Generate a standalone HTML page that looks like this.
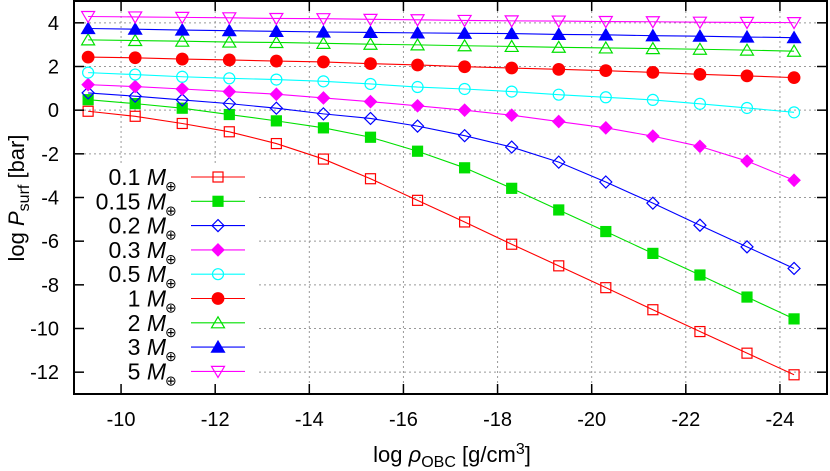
<!DOCTYPE html>
<html><head><meta charset="utf-8"><style>
html,body{margin:0;padding:0;background:#fff;}
svg{display:block;font-family:"Liberation Sans",sans-serif;}
</style></head><body>
<svg id="chart" width="830" height="471" viewBox="0 0 830 471" xmlns="http://www.w3.org/2000/svg">
<g id="grid"></g>
<g id="series"></g>
<rect x="77" y="164" width="181" height="227" fill="#fff"/>
<g id="legend"></g>
<g id="axes"></g>
<text transform="translate(24,198) rotate(-90)" text-anchor="middle" font-size="22">log <tspan font-style="italic">P</tspan><tspan font-size="16" dy="5">surf</tspan><tspan dy="-5"> [bar]</tspan></text>
<text x="452" y="462" text-anchor="middle" font-size="22">log <tspan font-style="italic">ρ</tspan><tspan font-size="16" dy="5">OBC</tspan><tspan dy="-5"> [g/cm</tspan><tspan font-size="16" dy="-8">3</tspan><tspan dy="8">]</tspan></text>
</svg>
<script>
const xValues = [-9.3,-10.3,-11.3,-12.3,-13.3,-14.3,-15.3,-16.3,-17.3,-18.3,-19.3,-20.3,-21.3,-22.3,-23.3,-24.3];
const xTicks = [-10,-12,-14,-16,-18,-20,-22,-24];
const yTicks = [4,2,0,-2,-4,-6,-8,-10,-12];
const seriesLabels = ["0.1","0.15","0.2","0.3","0.5","1","2","3","5"];
const m01 = [-0.05,-0.28,-0.61,-0.99,-1.53,-2.24,-3.14,-4.13,-5.12,-6.14,-7.13,-8.13,-9.14,-10.14,-11.13,-12.12];
const m015 = [0.48,0.30,0.09,-0.20,-0.49,-0.81,-1.24,-1.88,-2.64,-3.58,-4.57,-5.56,-6.56,-7.55,-8.56,-9.56];
const m02 = [0.79,0.64,0.47,0.30,0.09,-0.17,-0.38,-0.73,-1.17,-1.69,-2.38,-3.29,-4.26,-5.27,-6.26,-7.25];
const m03 = [1.17,1.08,0.97,0.85,0.73,0.56,0.39,0.20,0.0,-0.23,-0.52,-0.81,-1.19,-1.66,-2.33,-3.21];
const m05 = [1.72,1.63,1.53,1.46,1.40,1.32,1.20,1.06,0.97,0.85,0.71,0.59,0.47,0.29,0.10,-0.10];
const m1 = [2.43,2.40,2.34,2.30,2.25,2.21,2.13,2.07,1.99,1.93,1.87,1.81,1.73,1.64,1.57,1.49];
const m2 = [3.22,3.19,3.16,3.12,3.10,3.06,3.02,2.99,2.95,2.92,2.88,2.85,2.82,2.79,2.75,2.70];
const m3 = [3.74,3.71,3.67,3.64,3.61,3.58,3.56,3.54,3.52,3.51,3.47,3.45,3.41,3.39,3.35,3.32];
const m5 = [4.29,4.27,4.25,4.23,4.20,4.19,4.16,4.14,4.11,4.09,4.08,4.06,4.05,4.03,4.02,4.01];

const L=74,R=827,T=1,B=394;
const X0=-9,X1=-25,Y0=-13,Y1=5;
const xs=v=>L+(v-X0)/(X1-X0)*(R-L);
const ys=v=>B-(v-Y0)/(Y1-Y0)*(B-T);
const NS="http://www.w3.org/2000/svg";
function mk(tag,attrs,parent){const e=document.createElementNS(NS,tag);for(const k in attrs)e.setAttribute(k,attrs[k]);parent.appendChild(e);return e;}

const styles=[
 {d:m01,c:"#ff0000",m:"square",f:false,n:"series-0-1"},
 {d:m015,c:"#00e000",m:"square",f:true,n:"series-0-15"},
 {d:m02,c:"#0000ff",m:"diamond",f:false,n:"series-0-2"},
 {d:m03,c:"#ff00ff",m:"diamond",f:true,n:"series-0-3"},
 {d:m05,c:"#00ffff",m:"circle",f:false,n:"series-0-5"},
 {d:m1,c:"#ff0000",m:"circle",f:true,n:"series-1"},
 {d:m2,c:"#00e000",m:"tri",f:false,n:"series-2"},
 {d:m3,c:"#0000ff",m:"tri",f:true,n:"series-3"},
 {d:m5,c:"#ff00ff",m:"tridown",f:false,n:"series-5"}];

function marker(g,type,filled,c,x,y){
 const fill=filled?c:"none";let e;
 if(type==="square")e=mk("rect",{x:x-5,y:y-5,width:10,height:10,fill:fill,stroke:c,"stroke-width":1.2},g);
 else if(type==="circle")e=mk("circle",{cx:x,cy:y,r:filled?5.8:5.5,fill:fill,stroke:c,"stroke-width":1.2},g);
 else if(type==="diamond")e=mk("polygon",{points:`${x},${y-6} ${x+6},${y} ${x},${y+6} ${x-6},${y}`,fill:fill,stroke:c,"stroke-width":1.2},g);
 else if(type==="tri")e=mk("polygon",{points:`${x},${y-6} ${x+6.5},${y+5} ${x-6.5},${y+5}`,fill:fill,stroke:c,"stroke-width":1.2},g);
 else e=mk("polygon",{points:`${x},${y+6} ${x+6.5},${y-5} ${x-6.5},${y-5}`,fill:fill,stroke:c,"stroke-width":1.2},g);
 
 
}

const grid=document.getElementById('grid');
xTicks.forEach(t=>{const l=mk("line",{x1:xs(t),x2:xs(t),y1:T,y2:B,stroke:"#999","stroke-width":1,"stroke-dasharray":"2,3"},grid);
 
 });
yTicks.forEach(t=>{const l=mk("line",{x1:L,x2:R,y1:ys(t),y2:ys(t),stroke:"#999","stroke-width":1,"stroke-dasharray":"2,3"},grid);
 
 });

const sg=document.getElementById('series');
styles.forEach(s=>{
 const g=mk("g",{},sg);
 
 
 const pl=mk("polyline",{points:s.d.map((v,i)=>xs(xValues[i])+","+ys(v)).join(" "),fill:"none",stroke:s.c,"stroke-width":1.1},g);
 
 
 s.d.forEach((v,i)=>marker(g,s.m,s.f,s.c,xs(xValues[i]),ys(v)));
});

const lg=document.getElementById('legend');
styles.forEach((s,i)=>{
 const y=177+i*24.3;
 const g=mk("g",{},lg);
 
 
 const t=mk("text",{x:166,y:y+8,"text-anchor":"end","font-size":23},g);
 t.textContent=seriesLabels[i]+" ";
 const ti=mk("tspan",{"font-style":"italic"},t);ti.textContent="M";
 const sub=mk("tspan",{x:165,dy:6,"font-size":14,"text-anchor":"start"},t);sub.textContent="⊕";
 mk("line",{x1:191,x2:245,y1:y,y2:y,stroke:s.c,"stroke-width":1.1},g);
 marker(g,s.m,s.f,s.c,218,y);
});

const ax=document.getElementById('axes');
const fr=mk("rect",{x:L,y:T,width:R-L,height:B-T,fill:"none",stroke:"#000","stroke-width":2},ax);


xTicks.forEach(t=>{const x=xs(t);
 mk("line",{x1:x,x2:x,y1:B,y2:B-10,stroke:"#000","stroke-width":1.5},ax);
 mk("line",{x1:x,x2:x,y1:T,y2:T+10,stroke:"#000","stroke-width":1.5},ax);
 const tx=mk("text",{x:x,y:B+32,"text-anchor":"middle","font-size":20},ax);
 
 
 tx.textContent=t;});
yTicks.forEach(t=>{const y=ys(t);
 mk("line",{x1:L,x2:L+10,y1:y,y2:y,stroke:"#000","stroke-width":1.5},ax);
 mk("line",{x1:R,x2:R-10,y1:y,y2:y,stroke:"#000","stroke-width":1.5},ax);
 const tx=mk("text",{x:L-15,y:y+7,"text-anchor":"end","font-size":20},ax);
 
 
 tx.textContent=t;});
</script>
</body></html>
